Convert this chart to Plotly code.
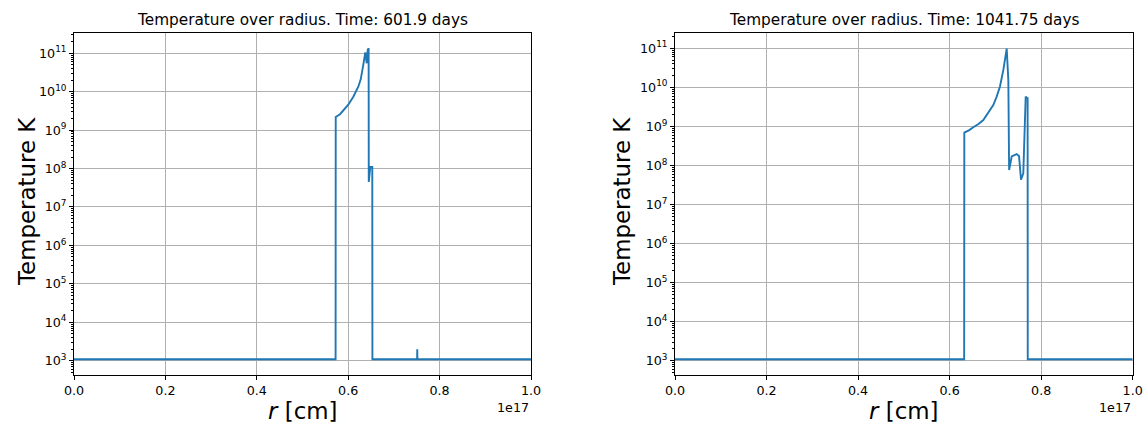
import plotly.graph_objects as go

# ---- data (radius in units of 1e17 cm, temperature in K) ----
r_left = [0.0, 0.5724, 0.5727, 0.5821, 0.6002, 0.6112, 0.6221, 0.6274, 0.6330,
          0.6374, 0.6405, 0.6427, 0.6447, 0.6450, 0.6484, 0.6527, 0.6530,
          0.7508, 0.7511, 0.7514, 1.0]
T_left = [1.09e3, 1.09e3, 2.2e9, 2.6e9, 4.6e9, 7.4e9, 1.35e10, 2.1e10, 5.0e10,
          1.05e11, 5.5e10, 1.23e11, 1.35e11, 4.5e7, 1.1e8, 1.1e8, 1.09e3,
          1.09e3, 2.0e3, 1.09e3, 1.09e3]

r_right = [0.0, 0.6318, 0.6321, 0.6420, 0.6517, 0.6630, 0.6736, 0.6845, 0.6954,
           0.7028, 0.7100, 0.7173, 0.7225, 0.7247, 0.7283, 0.7300, 0.7356,
           0.7466, 0.7516, 0.7560, 0.7610, 0.7662, 0.7697, 0.7704, 0.7707, 1.0]
T_right = [1.09e3, 1.09e3, 6.9e8, 7.9e8, 9.5e8, 1.15e9, 1.45e9, 2.2e9, 3.5e9,
           5.8e9, 1.05e10, 2.75e10, 7.4e10, 9.8e10, 1.5e10, 7.6e7, 1.7e8,
           1.95e8, 1.75e8, 4.3e7, 6.3e7, 5.8e9, 5.3e9, 5.3e9, 1.09e3, 1.09e3]

titles = ["Temperature over radius. Time: 601.9 days",
          "Temperature over radius. Time: 1041.75 days"]
x_tick_vals = [0.0, 0.2, 0.4, 0.6, 0.8, 1.0]
x_tick_text = ["0.0", "0.2", "0.4", "0.6", "0.8", "1.0"]
y_exponents = [3, 4, 5, 6, 7, 8, 9, 10, 11]

W, H = 1144, 425
FONT = "DejaVu Sans"
LINE = "#1f77b4"

fig = go.Figure()
fig.add_trace(go.Scatter(x=r_left, y=T_left, mode="lines",
                         line=dict(color=LINE, width=1.9),
                         xaxis="x", yaxis="y", showlegend=False))
fig.add_trace(go.Scatter(x=r_right, y=T_right, mode="lines",
                         line=dict(color=LINE, width=1.9),
                         xaxis="x2", yaxis="y2", showlegend=False))

y_tick_vals = [10.0 ** e for e in y_exponents]
y_tick_text = ["10<sup>%d</sup>" % e for e in y_exponents]
minor_vals = [m * 10.0 ** e for e in range(2, 12) for m in range(2, 10)]

panels = [(74, 531, [2.628, 11.52]), (675, 1132.7, [2.634, 11.384])]
y_dom = [(425 - 375) / H, (425 - 33.3) / H]

def xaxis_cfg(x0, x1, anchor):
    return dict(domain=[x0 / W, x1 / W], range=[0, 1], anchor=anchor, automargin=False,
                tickvals=x_tick_vals, ticktext=x_tick_text,
                ticks="outside", ticklen=4, tickwidth=1, tickcolor="black",
                showline=True, linecolor="black", linewidth=1, mirror=True,
                showgrid=True, gridcolor="#b0b0b0", gridwidth=0.9,
                zeroline=False, tickfont=dict(family=FONT, size=12.7, color="black"))

def yaxis_cfg(rng, anchor):
    return dict(domain=y_dom, type="log", range=rng, anchor=anchor, automargin=False,
                tickvals=y_tick_vals, ticktext=y_tick_text,
                ticks="outside", ticklen=4, tickwidth=1, tickcolor="black",
                minor=dict(tickvals=minor_vals, ticks="outside", ticklen=2,
                           tickwidth=0.7, tickcolor="black", showgrid=False),
                showline=True, linecolor="black", linewidth=1, mirror=True,
                showgrid=True, gridcolor="#b0b0b0", gridwidth=0.9,
                zeroline=False, tickfont=dict(family=FONT, size=12.7, color="black"))

fig.update_layout(
    width=W, height=H, margin=dict(l=0, r=0, t=0, b=0, autoexpand=False),
    paper_bgcolor="white", plot_bgcolor="white",
    font=dict(family=FONT, color="black"),
    xaxis=xaxis_cfg(panels[0][0], panels[0][1], "y"),
    yaxis=yaxis_cfg(panels[0][2], "x"),
    xaxis2=xaxis_cfg(panels[1][0], panels[1][1], "y2"),
    yaxis2=yaxis_cfg(panels[1][2], "x2"),
)

ann = []
for i, (x0, x1, _) in enumerate(panels):
    cx = (x0 + x1) / 2
    ann.append(dict(text=titles[i], x=cx / W, y=1 - 20 / H, xref="paper", yref="paper",
                    xanchor="center", yanchor="middle", showarrow=False,
                    font=dict(family=FONT, size=15.3, color="black")))
    ann.append(dict(text="<i>r</i> [cm]", x=cx / W, y=1 - 411 / H, xref="paper", yref="paper",
                    xanchor="center", yanchor="middle", showarrow=False,
                    font=dict(family=FONT, size=22.9, color="black")))
    ann.append(dict(text="1e17", x=x1 / W, y=1 - 407 / H, xref="paper", yref="paper",
                    xanchor="right", yanchor="middle", showarrow=False,
                    font=dict(family=FONT, size=12.7, color="black")))
    ylab_x = 27 if i == 0 else 622
    ann.append(dict(text="Temperature K", x=ylab_x / W, y=1 - 202 / H, xref="paper", yref="paper",
                    xanchor="center", yanchor="middle", textangle=-90, showarrow=False,
                    font=dict(family=FONT, size=22.9, color="black")))
fig.update_layout(annotations=ann)

fig.write_html("out.html")
